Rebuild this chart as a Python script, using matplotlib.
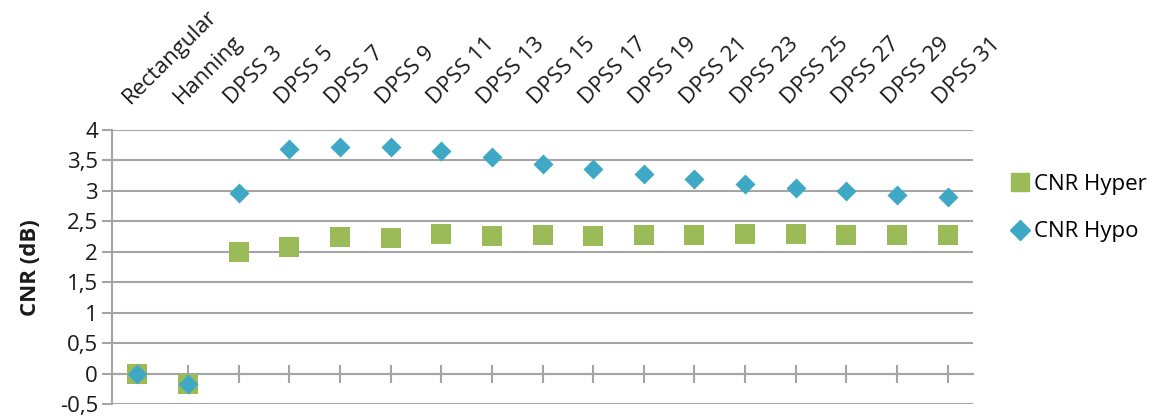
import matplotlib
matplotlib.use("Agg")
import matplotlib.pyplot as plt
import matplotlib.transforms as mtransforms
from matplotlib.lines import Line2D

categories = ["Rectangular", "Hanning", "DPSS 3", "DPSS 5", "DPSS 7", "DPSS 9",
              "DPSS 11", "DPSS 13", "DPSS 15", "DPSS 17", "DPSS 19", "DPSS 21",
              "DPSS 23", "DPSS 25", "DPSS 27", "DPSS 29", "DPSS 31"]
cnr_hyper = [0.0, -0.17, 2.00, 2.08, 2.24, 2.22, 2.29, 2.26, 2.27, 2.26, 2.27,
             2.28, 2.30, 2.30, 2.28, 2.28, 2.27]
cnr_hypo = [0.0, -0.17, 2.97, 3.69, 3.72, 3.72, 3.66, 3.56, 3.44, 3.36, 3.28,
            3.20, 3.11, 3.05, 3.00, 2.94, 2.90]
yticks = [-0.5, 0, 0.5, 1, 1.5, 2, 2.5, 3, 3.5, 4]
ytick_labels = ["-0,5", "0", "0,5", "1", "1,5", "2", "2,5", "3", "3,5", "4"]

green = "#9BBB59"
blue = "#3FA9C5"
grid_c = "#A5A5A5"
text_c = "#1a1a1a"

plt.rcParams['font.family'] = ['Open Sans', 'DejaVu Sans']

W, H = 1162, 418
fig = plt.figure(figsize=(W / 100, H / 100), dpi=100)
left, right, top, bottom = 112, 973, 130, 404
ax = fig.add_axes([left / W, 1 - bottom / H, (right - left) / W, (bottom - top) / H])

x = list(range(len(categories)))
ax.set_xlim(-0.5, len(categories) - 0.5)
ax.set_ylim(-0.5, 4)

for yv in yticks:
    ax.axhline(yv, color=grid_c, lw=1.5, zorder=1)

ax.scatter(x, cnr_hyper, marker="s", s=14.4 ** 2, color=green, zorder=3, linewidths=0)
ax.scatter(x, cnr_hypo, marker="D", s=10.2 ** 2, color=blue, zorder=4, linewidths=0)

for s in ["top", "right"]:
    ax.spines[s].set_visible(False)
ax.spines["left"].set_color(grid_c)
ax.spines["left"].set_linewidth(1.5)
ax.spines["bottom"].set_position(("data", 0))
ax.spines["bottom"].set_color(grid_c)
ax.spines["bottom"].set_linewidth(1.5)

ax.set_yticks(yticks)
ax.set_yticklabels(ytick_labels, fontsize=16, color=text_c)
ax.tick_params(axis="y", direction="out", length=7, width=1.5, color=grid_c, pad=3)
ax.set_xticks(x)
ax.tick_params(axis="x", direction="inout", length=13, width=1.5, color=grid_c,
               labelbottom=False)

trans = mtransforms.blended_transform_factory(ax.transData, ax.transAxes)
for xi, lab in zip(x, categories):
    ax.text(xi - 0.06, 1.08, lab, transform=trans, rotation=45,
            rotation_mode="anchor", ha="left", va="bottom", fontsize=16,
            color=text_c)

fig.text(30 / W, 1 - 268 / H, "CNR (dB)", rotation=90, ha="center", va="center",
         fontsize=16, fontweight="bold", color=text_c)

handles = [Line2D([], [], marker="s", color=green, ls="none", markersize=13),
           Line2D([], [], marker="D", color=blue, ls="none", markersize=10)]
fig.legend(handles, ["CNR Hyper", "CNR Hypo"], loc="center left",
           bbox_to_anchor=(1011 / W, 1 - 208 / H), frameon=False, fontsize=16,
           borderpad=0, borderaxespad=0,
           handlelength=0.8, handletextpad=0.25, labelspacing=1.2)

fig.savefig("out.png", dpi=100)
